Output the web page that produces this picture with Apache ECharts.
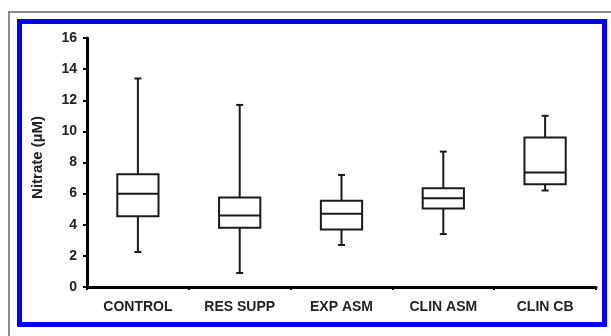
<!DOCTYPE html>
<html>
<head>
<meta charset="utf-8">
<script src="https://cdn.jsdelivr.net/npm/echarts@6/dist/echarts.min.js"></script>
<style>
html,body{margin:0;padding:0;background:#fff;width:611px;height:336px;overflow:hidden;}
#gray{position:absolute;left:8px;top:11px;width:610px;height:330px;border:2px solid #8c8c8c;box-sizing:border-box;}
#blue{position:absolute;left:17px;top:19px;width:590px;height:308px;border:5px solid #0000ff;box-sizing:border-box;}
#chart{position:absolute;left:0;top:0;width:611px;height:336px;}
</style>
</head>
<body>
<div id="gray"></div>
<div id="blue"></div>
<div id="chart"></div>
<script>
const categories = ['CONTROL', 'RES SUPP', 'EXP ASM', 'CLIN ASM', 'CLIN CB'];
const whiskerLow  = [2.25, 0.9, 2.7, 3.4, 6.2];
const q1          = [4.55, 3.8, 3.7, 5.05, 6.6];
const median      = [6.0, 4.6, 4.7, 5.7, 7.35];
const q3          = [7.25, 5.75, 5.55, 6.35, 9.6];
const whiskerHigh = [13.4, 11.7, 7.2, 8.7, 11.0];
const yTicks = [0, 2, 4, 6, 8, 10, 12, 14, 16];

const data = categories.map((c, i) => [i, whiskerLow[i], q1[i], median[i], q3[i], whiskerHigh[i]]);

const chart = echarts.init(document.getElementById('chart'));
const lineColor = '#1a1a1a';
const font = 'Liberation Sans';
chart.setOption({
  animation: false,
  backgroundColor: 'transparent',
  grid: {left: 87, right: 15, top: 38, bottom: 49},
  xAxis: {
    type: 'category',
    data: categories,
    axisLine: {lineStyle: {color: '#000', width: 3}},
    axisTick: {show: true, alignWithLabel: false, length: 3, lineStyle: {color: '#000', width: 2}},
    axisLabel: {color: '#222', fontFamily: font, fontWeight: 'bold', fontSize: 14, margin: 13}
  },
  yAxis: {
    type: 'value',
    min: yTicks[0], max: yTicks[yTicks.length - 1], interval: 2,
    name: 'Nitrate (\u00b5M)',
    nameLocation: 'middle',
    nameGap: 42,
    nameTextStyle: {color: '#222', fontFamily: font, fontWeight: 'bold', fontSize: 15, padding: [0, 0, 0, 10]},
    splitLine: {show: false},
    axisLine: {show: true, lineStyle: {color: '#000', width: 3}},
    axisTick: {show: true, length: 4, lineStyle: {color: '#000', width: 2}},
    axisLabel: {color: '#222', fontFamily: font, fontWeight: 'bold', fontSize: 14, margin: 10}
  },
  series: [{
    type: 'custom',
    data: data,
    encode: {x: 0, y: [1, 2, 3, 4, 5]},
    renderItem: function (params, api) {
      const idx = api.value(0);
      const pLow = api.coord([idx, api.value(1)]);
      const pQ1 = api.coord([idx, api.value(2)]);
      const pMed = api.coord([idx, api.value(3)]);
      const pQ3 = api.coord([idx, api.value(4)]);
      const pHigh = api.coord([idx, api.value(5)]);
      const bw = api.size([1, 0])[0] * 0.405;
      const cap = 3.5;
      const x = pQ1[0];
      const st = {stroke: lineColor, lineWidth: 2, fill: null};
      return {
        type: 'group',
        children: [
          {type: 'line', shape: {x1: x, y1: pQ3[1], x2: x, y2: pHigh[1]}, style: st},
          {type: 'line', shape: {x1: x, y1: pQ1[1], x2: x, y2: pLow[1]}, style: st},
          {type: 'line', shape: {x1: x - cap, y1: pHigh[1], x2: x + cap, y2: pHigh[1]}, style: st},
          {type: 'line', shape: {x1: x - cap, y1: pLow[1], x2: x + cap, y2: pLow[1]}, style: st},
          {type: 'rect', shape: {x: x - bw / 2, y: pQ3[1], width: bw, height: pQ1[1] - pQ3[1]}, style: {stroke: lineColor, lineWidth: 2, fill: '#fff'}},
          {type: 'line', shape: {x1: x - bw / 2, y1: pMed[1], x2: x + bw / 2, y2: pMed[1]}, style: st}
        ]
      };
    }
  }]
});
</script>
</body>
</html>
